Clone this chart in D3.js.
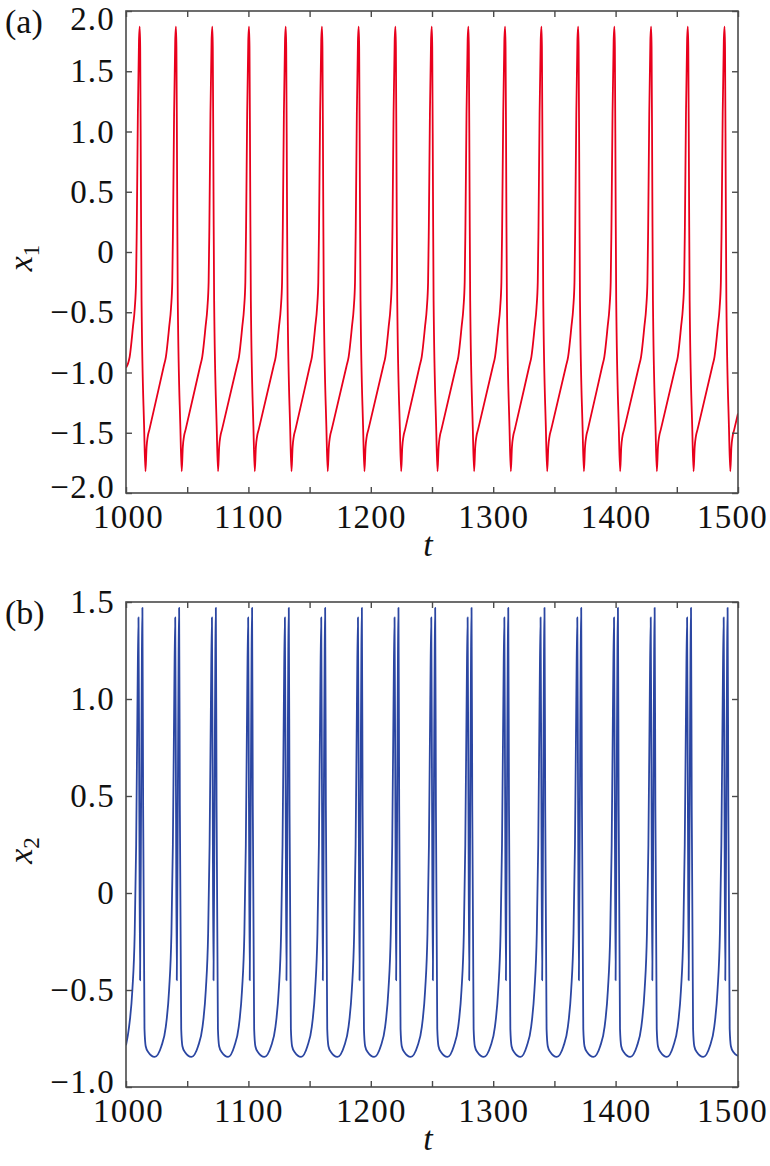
<!DOCTYPE html>
<html lang="en">
<head>
    <meta charset="UTF-8">
    <title>x1 and x2 time series</title>
    <script src="https://d3js.org/d3.v7.min.js"></script>
    <style>
        body { margin: 0; background: #fff; }
    </style>
</head>
<body>

<div id="my_dataviz"></div>

<script>
    // time range and tick values
    var tRange = [1000, 1500];
    var tTicks = [1000, 1050, 1100, 1150, 1200, 1250, 1300, 1350, 1400, 1450, 1500];
    var x1Ticks = [-2, -1.5, -1, -0.5, 0, 0.5, 1, 1.5, 2];
    var x1TickLabels = ["\u22122.0", "\u22121.5", "\u22121.0", "\u22120.5", "0", "0.5", "1.0", "1.5", "2.0"];
    var x2Ticks = [-1, -0.5, 0, 0.5, 1, 1.5];
    var x2TickLabels = ["\u22121.0", "\u22120.5", "0", "0.5", "1.0", "1.5"];

    // x1(t): one row per spike
    var x1Points = [
        [1000.0,-0.96],
        [1003.0,-0.87],[1005.7,-0.62],[1007.2,-0.46],[1008.2,-0.25],[1008.8,0.2],[1009.7,1.15],[1010.6,1.75],[1011.2,1.87],[1011.6,1.7],[1012.2,0.5],[1012.7,-0.4],[1014.8,-1.45],[1015.9,-1.82],[1016.8,-1.62],[1017.8,-1.53],[1019.2,-1.47],
        [1030.8,-0.95],[1032.6,-0.87],[1035.3,-0.62],[1036.8,-0.46],[1037.8,-0.25],[1038.4,0.2],[1039.3,1.15],[1040.2,1.75],[1040.8,1.87],[1041.2,1.7],[1041.8,0.5],[1042.3,-0.4],[1044.4,-1.45],[1045.5,-1.82],[1046.4,-1.62],[1047.4,-1.53],[1048.8,-1.47],
        [1060.5,-0.95],[1062.3,-0.87],[1065.0,-0.62],[1066.5,-0.46],[1067.5,-0.25],[1068.1,0.2],[1069.0,1.15],[1069.9,1.75],[1070.5,1.87],[1070.9,1.7],[1071.5,0.5],[1072.0,-0.4],[1074.1,-1.45],[1075.2,-1.82],[1076.1,-1.62],[1077.1,-1.53],[1078.5,-1.47],
        [1090.5,-0.95],[1092.3,-0.87],[1095.0,-0.62],[1096.5,-0.46],[1097.5,-0.25],[1098.1,0.2],[1099.0,1.15],[1099.9,1.75],[1100.5,1.87],[1100.9,1.7],[1101.5,0.5],[1102.0,-0.4],[1104.1,-1.45],[1105.2,-1.82],[1106.1,-1.62],[1107.1,-1.53],[1108.5,-1.47],
        [1120.5,-0.95],[1122.3,-0.87],[1125.0,-0.62],[1126.5,-0.46],[1127.5,-0.25],[1128.1,0.2],[1129.0,1.15],[1129.9,1.75],[1130.5,1.87],[1130.9,1.7],[1131.5,0.5],[1132.0,-0.4],[1134.1,-1.45],[1135.2,-1.82],[1136.1,-1.62],[1137.1,-1.53],[1138.5,-1.47],
        [1150.1,-0.95],[1151.9,-0.87],[1154.6,-0.62],[1156.1,-0.46],[1157.1,-0.25],[1157.7,0.2],[1158.6,1.15],[1159.5,1.75],[1160.1,1.87],[1160.5,1.7],[1161.1,0.5],[1161.6,-0.4],[1163.7,-1.45],[1164.8,-1.82],[1165.7,-1.62],[1166.7,-1.53],[1168.1,-1.47],
        [1180.1,-0.95],[1181.9,-0.87],[1184.6,-0.62],[1186.1,-0.46],[1187.1,-0.25],[1187.7,0.2],[1188.6,1.15],[1189.5,1.75],[1190.1,1.87],[1190.5,1.7],[1191.1,0.5],[1191.6,-0.4],[1193.7,-1.45],[1194.8,-1.82],[1195.7,-1.62],[1196.7,-1.53],[1198.1,-1.47],
        [1210.1,-0.95],[1211.9,-0.87],[1214.6,-0.62],[1216.1,-0.46],[1217.1,-0.25],[1217.7,0.2],[1218.6,1.15],[1219.5,1.75],[1220.1,1.87],[1220.5,1.7],[1221.1,0.5],[1221.6,-0.4],[1223.7,-1.45],[1224.8,-1.82],[1225.7,-1.62],[1226.7,-1.53],[1228.1,-1.47],
        [1239.8,-0.95],[1241.6,-0.87],[1244.3,-0.62],[1245.8,-0.46],[1246.8,-0.25],[1247.4,0.2],[1248.3,1.15],[1249.2,1.75],[1249.8,1.87],[1250.2,1.7],[1250.8,0.5],[1251.3,-0.4],[1253.4,-1.45],[1254.5,-1.82],[1255.4,-1.62],[1256.4,-1.53],[1257.8,-1.47],
        [1269.7,-0.95],[1271.5,-0.87],[1274.2,-0.62],[1275.7,-0.46],[1276.7,-0.25],[1277.3,0.2],[1278.2,1.15],[1279.1,1.75],[1279.7,1.87],[1280.1,1.7],[1280.7,0.5],[1281.2,-0.4],[1283.3,-1.45],[1284.4,-1.82],[1285.3,-1.62],[1286.3,-1.53],[1287.7,-1.47],
        [1299.7,-0.95],[1301.5,-0.87],[1304.2,-0.62],[1305.7,-0.46],[1306.7,-0.25],[1307.3,0.2],[1308.2,1.15],[1309.1,1.75],[1309.7,1.87],[1310.1,1.7],[1310.7,0.5],[1311.2,-0.4],[1313.3,-1.45],[1314.4,-1.82],[1315.3,-1.62],[1316.3,-1.53],[1317.7,-1.47],
        [1329.4,-0.95],[1331.2,-0.87],[1333.9,-0.62],[1335.4,-0.46],[1336.4,-0.25],[1337.0,0.2],[1337.9,1.15],[1338.8,1.75],[1339.4,1.87],[1339.8,1.7],[1340.4,0.5],[1340.9,-0.4],[1343.0,-1.45],[1344.1,-1.82],[1345.0,-1.62],[1346.0,-1.53],[1347.4,-1.47],
        [1359.4,-0.95],[1361.2,-0.87],[1363.9,-0.62],[1365.4,-0.46],[1366.4,-0.25],[1367.0,0.2],[1367.9,1.15],[1368.8,1.75],[1369.4,1.87],[1369.8,1.7],[1370.4,0.5],[1370.9,-0.4],[1373.0,-1.45],[1374.1,-1.82],[1375.0,-1.62],[1376.0,-1.53],[1377.4,-1.47],
        [1389.0,-0.95],[1390.8,-0.87],[1393.5,-0.62],[1395.0,-0.46],[1396.0,-0.25],[1396.6,0.2],[1397.5,1.15],[1398.4,1.75],[1399.0,1.87],[1399.4,1.7],[1400.0,0.5],[1400.5,-0.4],[1402.6,-1.45],[1403.7,-1.82],[1404.6,-1.62],[1405.6,-1.53],[1407.0,-1.47],
        [1419.0,-0.95],[1420.8,-0.87],[1423.5,-0.62],[1425.0,-0.46],[1426.0,-0.25],[1426.6,0.2],[1427.5,1.15],[1428.4,1.75],[1429.0,1.87],[1429.4,1.7],[1430.0,0.5],[1430.5,-0.4],[1432.6,-1.45],[1433.7,-1.82],[1434.6,-1.62],[1435.6,-1.53],[1437.0,-1.47],
        [1449.0,-0.95],[1450.8,-0.87],[1453.5,-0.62],[1455.0,-0.46],[1456.0,-0.25],[1456.6,0.2],[1457.5,1.15],[1458.4,1.75],[1459.0,1.87],[1459.4,1.7],[1460.0,0.5],[1460.5,-0.4],[1462.6,-1.45],[1463.7,-1.82],[1464.6,-1.62],[1465.6,-1.53],[1467.0,-1.47],
        [1479.0,-0.95],[1480.8,-0.87],[1483.5,-0.62],[1485.0,-0.46],[1486.0,-0.25],[1486.6,0.2],[1487.5,1.15],[1488.4,1.75],[1489.0,1.87],[1489.4,1.7],[1490.0,0.5],[1490.5,-0.4],[1492.6,-1.45],[1493.7,-1.82],[1494.6,-1.62],[1495.6,-1.53],[1497.0,-1.47],
        [1500.0,-1.34]
    ];

    // x2(t): one row per double spike
    var x2Points = [
        [1000.0,-0.785],
        [1002.5,-0.69],[1005.2,-0.50],[1007.1,-0.21],[1008.3,0.25],[1009.4,1.0],[1010.2,1.42],[1010.8,0.55],[1011.5,-0.45],[1012.4,0.55],[1013.0,1.25],[1013.4,1.47],[1014.0,0.45],[1015.1,-0.70],[1016.1,-0.79],[1018.1,-0.82],[1023.4,-0.845],
        [1028.9,-0.79],[1032.5,-0.69],[1035.2,-0.50],[1037.1,-0.21],[1038.3,0.25],[1039.4,1.0],[1040.2,1.42],[1040.8,0.55],[1041.5,-0.45],[1042.4,0.55],[1043.0,1.25],[1043.4,1.47],[1044.0,0.45],[1045.1,-0.70],[1046.1,-0.79],[1048.1,-0.82],[1053.4,-0.845],
        [1058.9,-0.79],[1062.5,-0.69],[1065.2,-0.50],[1067.1,-0.21],[1068.3,0.25],[1069.4,1.0],[1070.2,1.42],[1070.8,0.55],[1071.5,-0.45],[1072.4,0.55],[1073.0,1.25],[1073.4,1.47],[1074.0,0.45],[1075.1,-0.70],[1076.1,-0.79],[1078.1,-0.82],[1083.4,-0.845],
        [1088.5,-0.79],[1092.1,-0.69],[1094.8,-0.50],[1096.7,-0.21],[1097.9,0.25],[1099.0,1.0],[1099.8,1.42],[1100.4,0.55],[1101.1,-0.45],[1102.0,0.55],[1102.6,1.25],[1103.0,1.47],[1103.6,0.45],[1104.7,-0.70],[1105.7,-0.79],[1107.7,-0.82],[1113.0,-0.845],
        [1118.5,-0.79],[1122.1,-0.69],[1124.8,-0.50],[1126.7,-0.21],[1127.9,0.25],[1129.0,1.0],[1129.8,1.42],[1130.4,0.55],[1131.1,-0.45],[1132.0,0.55],[1132.6,1.25],[1133.0,1.47],[1133.6,0.45],[1134.7,-0.70],[1135.7,-0.79],[1137.7,-0.82],[1143.0,-0.845],
        [1148.2,-0.79],[1151.8,-0.69],[1154.5,-0.50],[1156.4,-0.21],[1157.6,0.25],[1158.7,1.0],[1159.5,1.42],[1160.1,0.55],[1160.8,-0.45],[1161.7,0.55],[1162.3,1.25],[1162.7,1.47],[1163.3,0.45],[1164.4,-0.70],[1165.4,-0.79],[1167.4,-0.82],[1172.7,-0.845],
        [1178.2,-0.79],[1181.8,-0.69],[1184.5,-0.50],[1186.4,-0.21],[1187.6,0.25],[1188.7,1.0],[1189.5,1.42],[1190.1,0.55],[1190.8,-0.45],[1191.7,0.55],[1192.3,1.25],[1192.7,1.47],[1193.3,0.45],[1194.4,-0.70],[1195.4,-0.79],[1197.4,-0.82],[1202.7,-0.845],
        [1208.1,-0.79],[1211.7,-0.69],[1214.4,-0.50],[1216.3,-0.21],[1217.5,0.25],[1218.6,1.0],[1219.4,1.42],[1220.0,0.55],[1220.7,-0.45],[1221.6,0.55],[1222.2,1.25],[1222.6,1.47],[1223.2,0.45],[1224.3,-0.70],[1225.3,-0.79],[1227.3,-0.82],[1232.6,-0.845],
        [1238.1,-0.79],[1241.7,-0.69],[1244.4,-0.50],[1246.3,-0.21],[1247.5,0.25],[1248.6,1.0],[1249.4,1.42],[1250.0,0.55],[1250.7,-0.45],[1251.6,0.55],[1252.2,1.25],[1252.6,1.47],[1253.2,0.45],[1254.3,-0.70],[1255.3,-0.79],[1257.3,-0.82],[1262.6,-0.845],
        [1267.8,-0.79],[1271.4,-0.69],[1274.1,-0.50],[1276.0,-0.21],[1277.2,0.25],[1278.3,1.0],[1279.1,1.42],[1279.7,0.55],[1280.4,-0.45],[1281.3,0.55],[1281.9,1.25],[1282.3,1.47],[1282.9,0.45],[1284.0,-0.70],[1285.0,-0.79],[1287.0,-0.82],[1292.3,-0.845],
        [1297.8,-0.79],[1301.4,-0.69],[1304.1,-0.50],[1306.0,-0.21],[1307.2,0.25],[1308.3,1.0],[1309.1,1.42],[1309.7,0.55],[1310.4,-0.45],[1311.3,0.55],[1311.9,1.25],[1312.3,1.47],[1312.9,0.45],[1314.0,-0.70],[1315.0,-0.79],[1317.0,-0.82],[1322.3,-0.845],
        [1327.4,-0.79],[1331.0,-0.69],[1333.7,-0.50],[1335.6,-0.21],[1336.8,0.25],[1337.9,1.0],[1338.7,1.42],[1339.3,0.55],[1340.0,-0.45],[1340.9,0.55],[1341.5,1.25],[1341.9,1.47],[1342.5,0.45],[1343.6,-0.70],[1344.6,-0.79],[1346.6,-0.82],[1351.9,-0.845],
        [1357.4,-0.79],[1361.0,-0.69],[1363.7,-0.50],[1365.6,-0.21],[1366.8,0.25],[1367.9,1.0],[1368.7,1.42],[1369.3,0.55],[1370.0,-0.45],[1370.9,0.55],[1371.5,1.25],[1371.9,1.47],[1372.5,0.45],[1373.6,-0.70],[1374.6,-0.79],[1376.6,-0.82],[1381.9,-0.845],
        [1387.4,-0.79],[1391.0,-0.69],[1393.7,-0.50],[1395.6,-0.21],[1396.8,0.25],[1397.9,1.0],[1398.7,1.42],[1399.3,0.55],[1400.0,-0.45],[1400.9,0.55],[1401.5,1.25],[1401.9,1.47],[1402.5,0.45],[1403.6,-0.70],[1404.6,-0.79],[1406.6,-0.82],[1411.9,-0.845],
        [1417.4,-0.79],[1421.0,-0.69],[1423.7,-0.50],[1425.6,-0.21],[1426.8,0.25],[1427.9,1.0],[1428.7,1.42],[1429.3,0.55],[1430.0,-0.45],[1430.9,0.55],[1431.5,1.25],[1431.9,1.47],[1432.5,0.45],[1433.6,-0.70],[1434.6,-0.79],[1436.6,-0.82],[1441.9,-0.845],
        [1447.1,-0.79],[1450.7,-0.69],[1453.4,-0.50],[1455.3,-0.21],[1456.5,0.25],[1457.6,1.0],[1458.4,1.42],[1459.0,0.55],[1459.7,-0.45],[1460.6,0.55],[1461.2,1.25],[1461.6,1.47],[1462.2,0.45],[1463.3,-0.70],[1464.3,-0.79],[1466.3,-0.82],[1471.6,-0.845],
        [1477.0,-0.79],[1480.6,-0.69],[1483.3,-0.50],[1485.2,-0.21],[1486.4,0.25],[1487.5,1.0],[1488.3,1.42],[1488.9,0.55],[1489.6,-0.45],[1490.5,0.55],[1491.1,1.25],[1491.5,1.47],[1492.1,0.45],[1493.2,-0.70],[1494.2,-0.79],[1496.2,-0.82],
        [1500.0,-0.84]
    ];

    var width = 770, height = 1166;
    var tickFont = "'Liberation Serif', 'DejaVu Serif', serif";

    var svg = d3.select("#my_dataviz").append("svg")
        .attr("width", width)
        .attr("height", height)
        .style("background", "#fff");

    // one panel = box with inward ticks on all sides
    function drawPanel(opts) {
        var m = opts.box;  // {left, right, top, bottom}
        var g = svg.append("g");

        var x = d3.scaleLinear().domain(tRange).range([m.left, m.right]);
        var y = d3.scaleLinear().domain(opts.yDomain).range([m.bottom, m.top]);

        var clipId = "clip-" + opts.name;
        g.append("clipPath").attr("id", clipId)
            .append("rect")
            .attr("x", m.left).attr("y", m.top)
            .attr("width", m.right - m.left).attr("height", m.bottom - m.top);

        // the line
        g.append("path")
            .datum(opts.points)
            .attr("clip-path", "url(#" + clipId + ")")
            .attr("fill", "none")
            .attr("stroke", opts.color)
            .attr("stroke-width", 1.8)
            .attr("stroke-linejoin", "round")
            .attr("d", d3.line()
                .curve(d3.curveMonotoneX)
                .x(function(d) { return x(d[0]) })
                .y(function(d) { return y(d[1]) })
            );

        var tickLen = 6;
        var xFmt = function(d) { return d % 100 === 0 ? String(d) : "" };
        var yFmt = function(d) { return opts.yLabels[opts.yTicks.indexOf(d)] };

        var bottomAx = g.append("g")
            .attr("transform", "translate(0," + m.bottom + ")")
            .call(d3.axisBottom(x).tickValues(tTicks).tickFormat(xFmt)
                .tickSizeInner(-tickLen).tickSizeOuter(0).tickPadding(12));
        var topAx = g.append("g")
            .attr("transform", "translate(0," + m.top + ")")
            .call(d3.axisTop(x).tickValues(tTicks).tickFormat("")
                .tickSizeInner(-tickLen).tickSizeOuter(0));
        var leftAx = g.append("g")
            .attr("transform", "translate(" + m.left + ",0)")
            .call(d3.axisLeft(y).tickValues(opts.yTicks).tickFormat(yFmt)
                .tickSizeInner(-tickLen).tickSizeOuter(0).tickPadding(11));
        var rightAx = g.append("g")
            .attr("transform", "translate(" + m.right + ",0)")
            .call(d3.axisRight(y).tickValues(opts.yTicks).tickFormat("")
                .tickSizeInner(-tickLen).tickSizeOuter(0));

        [bottomAx, topAx, leftAx, rightAx].forEach(function(ax) {
            ax.selectAll(".domain").remove();
            ax.selectAll(".tick line").attr("stroke", "#4a4a4a").attr("stroke-width", 1.4);
            ax.selectAll(".tick text")
                .attr("fill", "#111")
                .style("font-family", tickFont)
                .style("font-size", "33px")
                .style("letter-spacing", "1.2px");
        });

        // end labels sit a little inside the box
        leftAx.selectAll(".tick text")
            .attr("y", function(d) {
                if (d === opts.yDomain[0]) return -opts.endShift[0];
                if (d === opts.yDomain[1]) return opts.endShift[1];
                return 0;
            });
        bottomAx.selectAll(".tick text")
            .attr("x", function(d) {
                if (d === tRange[0]) return 2;
                if (d === tRange[1]) return -6;
                return 0;
            });

        // box
        g.append("rect")
            .attr("x", m.left).attr("y", m.top)
            .attr("width", m.right - m.left).attr("height", m.bottom - m.top)
            .attr("fill", "none")
            .attr("stroke", "#4a4a4a")
            .attr("stroke-width", 1.6);

        // x axis title
        g.append("text")
            .attr("x", (m.left + m.right) / 2 - 4)
            .attr("y", m.bottom + 63)
            .attr("text-anchor", "middle")
            .style("font-family", tickFont)
            .style("font-style", "italic")
            .style("font-size", "34px")
            .attr("fill", "#111")
            .text("t");

        // y axis title, rotated, with subscript
        var yt = g.append("text")
            .attr("transform", "translate(" + 32 + "," + ((m.top + m.bottom) / 2 + 6) + ") rotate(-90)")
            .attr("text-anchor", "middle")
            .style("font-family", tickFont)
            .style("font-size", "34px")
            .attr("fill", "#111");
        yt.append("tspan").style("font-style", "italic").text("x");
        yt.append("tspan").attr("dy", 7).style("font-size", "23px").text(opts.sub);

        // panel letter
        g.append("text")
            .attr("x", 5)
            .attr("y", m.top + opts.letterDy)
            .style("font-family", tickFont)
            .style("font-size", "34px")
            .attr("fill", "#111")
            .text(opts.letter);
    }

    drawPanel({
        name: "a",
        box: {left: 126, right: 738, top: 11, bottom: 493},
        yDomain: [-2, 2],
        yTicks: x1Ticks,
        yLabels: x1TickLabels,
        endShift: [6, 8],
        points: x1Points,
        color: "#e8001c",
        sub: "1",
        letter: "(a)",
        letterDy: 22
    });

    drawPanel({
        name: "b",
        box: {left: 126, right: 738, top: 602, bottom: 1087},
        yDomain: [-1, 1.5],
        yTicks: x2Ticks,
        yLabels: x2TickLabels,
        endShift: [5, 0],
        points: x2Points,
        color: "#2b46a2",
        sub: "2",
        letter: "(b)",
        letterDy: 22
    });
</script>

</body>
</html>
